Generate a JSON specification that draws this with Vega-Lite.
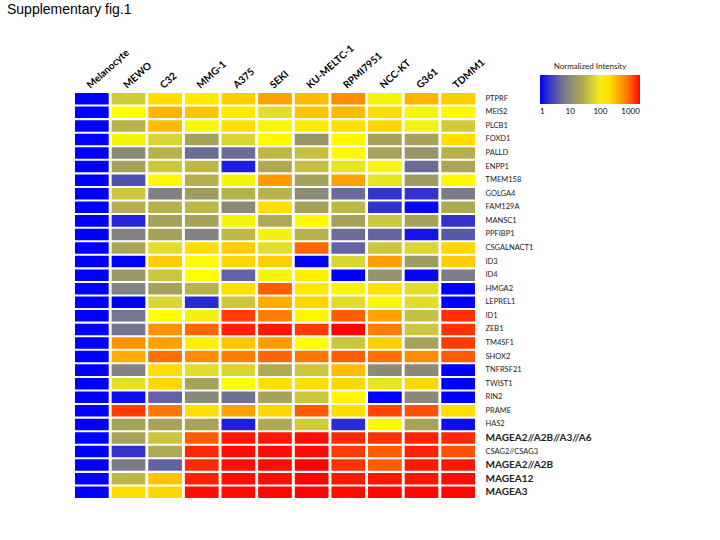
{
  "$schema": "https://vega.github.io/schema/vega-lite/v6.json",
  "width": 400,
  "height": 405,
  "autosize": {"type": "none"},
  "padding": {"left": 75, "top": 93, "right": 245, "bottom": 42},
  "background": "white",
  "title": {"text": "Supplementary fig.1", "anchor": "start", "frame": "group", "dx": -68, "dy": -22, "font": "Liberation Sans", "fontSize": 14, "fontWeight": "normal", "color": "black"},
  "config": {"view": {"stroke": null}},
  "data": {"values": [
    {"g":"PTPRF","c":"Melanocyte","v":1},{"g":"PTPRF","c":"MEWO","v":50},{"g":"PTPRF","c":"C32","v":200},{"g":"PTPRF","c":"MMG-1","v":170},{"g":"PTPRF","c":"A375","v":250},{"g":"PTPRF","c":"SEKI","v":450},{"g":"PTPRF","c":"KU-MELTC-1","v":320},{"g":"PTPRF","c":"RPMI7951","v":600},{"g":"PTPRF","c":"NCC-KT","v":110},{"g":"PTPRF","c":"G361","v":350},{"g":"PTPRF","c":"TDMM1","v":250},
    {"g":"MEIS2","c":"Melanocyte","v":1},{"g":"MEIS2","c":"MEWO","v":130},{"g":"MEIS2","c":"C32","v":350},{"g":"MEIS2","c":"MMG-1","v":280},{"g":"MEIS2","c":"A375","v":170},{"g":"MEIS2","c":"SEKI","v":70},{"g":"MEIS2","c":"KU-MELTC-1","v":280},{"g":"MEIS2","c":"RPMI7951","v":330},{"g":"MEIS2","c":"NCC-KT","v":200},{"g":"MEIS2","c":"G361","v":110},{"g":"MEIS2","c":"TDMM1","v":140},
    {"g":"PLCB1","c":"Melanocyte","v":1},{"g":"PLCB1","c":"MEWO","v":30},{"g":"PLCB1","c":"C32","v":320},{"g":"PLCB1","c":"MMG-1","v":110},{"g":"PLCB1","c":"A375","v":200},{"g":"PLCB1","c":"SEKI","v":110},{"g":"PLCB1","c":"KU-MELTC-1","v":170},{"g":"PLCB1","c":"RPMI7951","v":200},{"g":"PLCB1","c":"NCC-KT","v":220},{"g":"PLCB1","c":"G361","v":100},{"g":"PLCB1","c":"TDMM1","v":50},
    {"g":"FOXD1","c":"Melanocyte","v":1},{"g":"FOXD1","c":"MEWO","v":110},{"g":"FOXD1","c":"C32","v":60},{"g":"FOXD1","c":"MMG-1","v":20},{"g":"FOXD1","c":"A375","v":60},{"g":"FOXD1","c":"SEKI","v":140},{"g":"FOXD1","c":"KU-MELTC-1","v":14},{"g":"FOXD1","c":"RPMI7951","v":140},{"g":"FOXD1","c":"NCC-KT","v":20},{"g":"FOXD1","c":"G361","v":20},{"g":"FOXD1","c":"TDMM1","v":200},
    {"g":"PALLD","c":"Melanocyte","v":1},{"g":"PALLD","c":"MEWO","v":10},{"g":"PALLD","c":"C32","v":30},{"g":"PALLD","c":"MMG-1","v":5},{"g":"PALLD","c":"A375","v":5},{"g":"PALLD","c":"SEKI","v":35},{"g":"PALLD","c":"KU-MELTC-1","v":40},{"g":"PALLD","c":"RPMI7951","v":140},{"g":"PALLD","c":"NCC-KT","v":20},{"g":"PALLD","c":"G361","v":14},{"g":"PALLD","c":"TDMM1","v":28},
    {"g":"ENPP1","c":"Melanocyte","v":1},{"g":"ENPP1","c":"MEWO","v":20},{"g":"ENPP1","c":"C32","v":45},{"g":"ENPP1","c":"MMG-1","v":35},{"g":"ENPP1","c":"A375","v":1.5},{"g":"ENPP1","c":"SEKI","v":24},{"g":"ENPP1","c":"KU-MELTC-1","v":40},{"g":"ENPP1","c":"RPMI7951","v":80},{"g":"ENPP1","c":"NCC-KT","v":110},{"g":"ENPP1","c":"G361","v":5},{"g":"ENPP1","c":"TDMM1","v":22},
    {"g":"TMEM158","c":"Melanocyte","v":1},{"g":"TMEM158","c":"MEWO","v":3},{"g":"TMEM158","c":"C32","v":140},{"g":"TMEM158","c":"MMG-1","v":28},{"g":"TMEM158","c":"A375","v":110},{"g":"TMEM158","c":"SEKI","v":500},{"g":"TMEM158","c":"KU-MELTC-1","v":20},{"g":"TMEM158","c":"RPMI7951","v":450},{"g":"TMEM158","c":"NCC-KT","v":80},{"g":"TMEM158","c":"G361","v":17},{"g":"TMEM158","c":"TDMM1","v":140},
    {"g":"GOLGA4","c":"Melanocyte","v":1},{"g":"GOLGA4","c":"MEWO","v":45},{"g":"GOLGA4","c":"C32","v":8},{"g":"GOLGA4","c":"MMG-1","v":17},{"g":"GOLGA4","c":"A375","v":30},{"g":"GOLGA4","c":"SEKI","v":30},{"g":"GOLGA4","c":"KU-MELTC-1","v":10},{"g":"GOLGA4","c":"RPMI7951","v":5},{"g":"GOLGA4","c":"NCC-KT","v":2},{"g":"GOLGA4","c":"G361","v":2},{"g":"GOLGA4","c":"TDMM1","v":7},
    {"g":"FAM129A","c":"Melanocyte","v":1},{"g":"FAM129A","c":"MEWO","v":28},{"g":"FAM129A","c":"C32","v":30},{"g":"FAM129A","c":"MMG-1","v":35},{"g":"FAM129A","c":"A375","v":10},{"g":"FAM129A","c":"SEKI","v":200},{"g":"FAM129A","c":"KU-MELTC-1","v":20},{"g":"FAM129A","c":"RPMI7951","v":35},{"g":"FAM129A","c":"NCC-KT","v":2},{"g":"FAM129A","c":"G361","v":1.1},{"g":"FAM129A","c":"TDMM1","v":24},
    {"g":"MANSC1","c":"Melanocyte","v":1},{"g":"MANSC1","c":"MEWO","v":1.6},{"g":"MANSC1","c":"C32","v":20},{"g":"MANSC1","c":"MMG-1","v":20},{"g":"MANSC1","c":"A375","v":110},{"g":"MANSC1","c":"SEKI","v":24},{"g":"MANSC1","c":"KU-MELTC-1","v":140},{"g":"MANSC1","c":"RPMI7951","v":20},{"g":"MANSC1","c":"NCC-KT","v":45},{"g":"MANSC1","c":"G361","v":20},{"g":"MANSC1","c":"TDMM1","v":2},
    {"g":"PPFIBP1","c":"Melanocyte","v":1},{"g":"PPFIBP1","c":"MEWO","v":8},{"g":"PPFIBP1","c":"C32","v":20},{"g":"PPFIBP1","c":"MMG-1","v":8},{"g":"PPFIBP1","c":"A375","v":35},{"g":"PPFIBP1","c":"SEKI","v":100},{"g":"PPFIBP1","c":"KU-MELTC-1","v":30},{"g":"PPFIBP1","c":"RPMI7951","v":5},{"g":"PPFIBP1","c":"NCC-KT","v":4},{"g":"PPFIBP1","c":"G361","v":1.3},{"g":"PPFIBP1","c":"TDMM1","v":3.5},
    {"g":"CSGALNACT1","c":"Melanocyte","v":1},{"g":"CSGALNACT1","c":"MEWO","v":22},{"g":"CSGALNACT1","c":"C32","v":70},{"g":"CSGALNACT1","c":"MMG-1","v":200},{"g":"CSGALNACT1","c":"A375","v":250},{"g":"CSGALNACT1","c":"SEKI","v":70},{"g":"CSGALNACT1","c":"KU-MELTC-1","v":900},{"g":"CSGALNACT1","c":"RPMI7951","v":4},{"g":"CSGALNACT1","c":"NCC-KT","v":45},{"g":"CSGALNACT1","c":"G361","v":60},{"g":"CSGALNACT1","c":"TDMM1","v":220},
    {"g":"ID3","c":"Melanocyte","v":1},{"g":"ID3","c":"MEWO","v":1},{"g":"ID3","c":"C32","v":250},{"g":"ID3","c":"MMG-1","v":120},{"g":"ID3","c":"A375","v":220},{"g":"ID3","c":"SEKI","v":250},{"g":"ID3","c":"KU-MELTC-1","v":1},{"g":"ID3","c":"RPMI7951","v":60},{"g":"ID3","c":"NCC-KT","v":480},{"g":"ID3","c":"G361","v":17},{"g":"ID3","c":"TDMM1","v":250},
    {"g":"ID4","c":"Melanocyte","v":1},{"g":"ID4","c":"MEWO","v":15},{"g":"ID4","c":"C32","v":45},{"g":"ID4","c":"MMG-1","v":130},{"g":"ID4","c":"A375","v":4},{"g":"ID4","c":"SEKI","v":110},{"g":"ID4","c":"KU-MELTC-1","v":160},{"g":"ID4","c":"RPMI7951","v":1},{"g":"ID4","c":"NCC-KT","v":13},{"g":"ID4","c":"G361","v":1.1},{"g":"ID4","c":"TDMM1","v":7},
    {"g":"HMGA2","c":"Melanocyte","v":1},{"g":"HMGA2","c":"MEWO","v":8},{"g":"HMGA2","c":"C32","v":20},{"g":"HMGA2","c":"MMG-1","v":30},{"g":"HMGA2","c":"A375","v":200},{"g":"HMGA2","c":"SEKI","v":1000},{"g":"HMGA2","c":"KU-MELTC-1","v":170},{"g":"HMGA2","c":"RPMI7951","v":110},{"g":"HMGA2","c":"NCC-KT","v":200},{"g":"HMGA2","c":"G361","v":70},{"g":"HMGA2","c":"TDMM1","v":1},
    {"g":"LEPREL1","c":"Melanocyte","v":1},{"g":"LEPREL1","c":"MEWO","v":1},{"g":"LEPREL1","c":"C32","v":60},{"g":"LEPREL1","c":"MMG-1","v":1.8},{"g":"LEPREL1","c":"A375","v":45},{"g":"LEPREL1","c":"SEKI","v":400},{"g":"LEPREL1","c":"KU-MELTC-1","v":220},{"g":"LEPREL1","c":"RPMI7951","v":70},{"g":"LEPREL1","c":"NCC-KT","v":110},{"g":"LEPREL1","c":"G361","v":70},{"g":"LEPREL1","c":"TDMM1","v":1},
    {"g":"ID1","c":"Melanocyte","v":1},{"g":"ID1","c":"MEWO","v":6},{"g":"ID1","c":"C32","v":130},{"g":"ID1","c":"MMG-1","v":100},{"g":"ID1","c":"A375","v":1300},{"g":"ID1","c":"SEKI","v":700},{"g":"ID1","c":"KU-MELTC-1","v":140},{"g":"ID1","c":"RPMI7951","v":1000},{"g":"ID1","c":"NCC-KT","v":450},{"g":"ID1","c":"G361","v":40},{"g":"ID1","c":"TDMM1","v":1400},
    {"g":"ZEB1","c":"Melanocyte","v":1},{"g":"ZEB1","c":"MEWO","v":6},{"g":"ZEB1","c":"C32","v":550},{"g":"ZEB1","c":"MMG-1","v":900},{"g":"ZEB1","c":"A375","v":1600},{"g":"ZEB1","c":"SEKI","v":1700},{"g":"ZEB1","c":"KU-MELTC-1","v":1300},{"g":"ZEB1","c":"RPMI7951","v":2000},{"g":"ZEB1","c":"NCC-KT","v":700},{"g":"ZEB1","c":"G361","v":45},{"g":"ZEB1","c":"TDMM1","v":1400},
    {"g":"TM4SF1","c":"Melanocyte","v":1},{"g":"TM4SF1","c":"MEWO","v":550},{"g":"TM4SF1","c":"C32","v":450},{"g":"TM4SF1","c":"MMG-1","v":160},{"g":"TM4SF1","c":"A375","v":280},{"g":"TM4SF1","c":"SEKI","v":500},{"g":"TM4SF1","c":"KU-MELTC-1","v":130},{"g":"TM4SF1","c":"RPMI7951","v":45},{"g":"TM4SF1","c":"NCC-KT","v":250},{"g":"TM4SF1","c":"G361","v":20},{"g":"TM4SF1","c":"TDMM1","v":1300},
    {"g":"SHOX2","c":"Melanocyte","v":1},{"g":"SHOX2","c":"MEWO","v":400},{"g":"SHOX2","c":"C32","v":800},{"g":"SHOX2","c":"MMG-1","v":600},{"g":"SHOX2","c":"A375","v":700},{"g":"SHOX2","c":"SEKI","v":900},{"g":"SHOX2","c":"KU-MELTC-1","v":750},{"g":"SHOX2","c":"RPMI7951","v":1000},{"g":"SHOX2","c":"NCC-KT","v":800},{"g":"SHOX2","c":"G361","v":600},{"g":"SHOX2","c":"TDMM1","v":1000},
    {"g":"TNFRSF21","c":"Melanocyte","v":1},{"g":"TNFRSF21","c":"MEWO","v":8},{"g":"TNFRSF21","c":"C32","v":200},{"g":"TNFRSF21","c":"MMG-1","v":70},{"g":"TNFRSF21","c":"A375","v":60},{"g":"TNFRSF21","c":"SEKI","v":24},{"g":"TNFRSF21","c":"KU-MELTC-1","v":45},{"g":"TNFRSF21","c":"RPMI7951","v":320},{"g":"TNFRSF21","c":"NCC-KT","v":10},{"g":"TNFRSF21","c":"G361","v":10},{"g":"TNFRSF21","c":"TDMM1","v":1},
    {"g":"TWIST1","c":"Melanocyte","v":1},{"g":"TWIST1","c":"MEWO","v":75},{"g":"TWIST1","c":"C32","v":220},{"g":"TWIST1","c":"MMG-1","v":20},{"g":"TWIST1","c":"A375","v":130},{"g":"TWIST1","c":"SEKI","v":200},{"g":"TWIST1","c":"KU-MELTC-1","v":200},{"g":"TWIST1","c":"RPMI7951","v":220},{"g":"TWIST1","c":"NCC-KT","v":80},{"g":"TWIST1","c":"G361","v":220},{"g":"TWIST1","c":"TDMM1","v":1},
    {"g":"RIN2","c":"Melanocyte","v":1},{"g":"RIN2","c":"MEWO","v":1.2},{"g":"RIN2","c":"C32","v":4},{"g":"RIN2","c":"MMG-1","v":10},{"g":"RIN2","c":"A375","v":5.5},{"g":"RIN2","c":"SEKI","v":20},{"g":"RIN2","c":"KU-MELTC-1","v":45},{"g":"RIN2","c":"RPMI7951","v":140},{"g":"RIN2","c":"NCC-KT","v":1},{"g":"RIN2","c":"G361","v":10},{"g":"RIN2","c":"TDMM1","v":1},
    {"g":"PRAME","c":"Melanocyte","v":1},{"g":"PRAME","c":"MEWO","v":1300},{"g":"PRAME","c":"C32","v":750},{"g":"PRAME","c":"MMG-1","v":200},{"g":"PRAME","c":"A375","v":450},{"g":"PRAME","c":"SEKI","v":220},{"g":"PRAME","c":"KU-MELTC-1","v":1000},{"g":"PRAME","c":"RPMI7951","v":200},{"g":"PRAME","c":"NCC-KT","v":1200},{"g":"PRAME","c":"G361","v":1100},{"g":"PRAME","c":"TDMM1","v":200},
    {"g":"HAS2","c":"Melanocyte","v":1},{"g":"HAS2","c":"MEWO","v":20},{"g":"HAS2","c":"C32","v":20},{"g":"HAS2","c":"MMG-1","v":20},{"g":"HAS2","c":"A375","v":1.5},{"g":"HAS2","c":"SEKI","v":24},{"g":"HAS2","c":"KU-MELTC-1","v":50},{"g":"HAS2","c":"RPMI7951","v":1.8},{"g":"HAS2","c":"NCC-KT","v":140},{"g":"HAS2","c":"G361","v":20},{"g":"HAS2","c":"TDMM1","v":1.2},
    {"g":"MAGEA2//A2B//A3//A6","c":"Melanocyte","v":1},{"g":"MAGEA2//A2B//A3//A6","c":"MEWO","v":20},{"g":"MAGEA2//A2B//A3//A6","c":"C32","v":45},{"g":"MAGEA2//A2B//A3//A6","c":"MMG-1","v":1000},{"g":"MAGEA2//A2B//A3//A6","c":"A375","v":1700},{"g":"MAGEA2//A2B//A3//A6","c":"SEKI","v":1700},{"g":"MAGEA2//A2B//A3//A6","c":"KU-MELTC-1","v":1850},{"g":"MAGEA2//A2B//A3//A6","c":"RPMI7951","v":1500},{"g":"MAGEA2//A2B//A3//A6","c":"NCC-KT","v":1400},{"g":"MAGEA2//A2B//A3//A6","c":"G361","v":1600},{"g":"MAGEA2//A2B//A3//A6","c":"TDMM1","v":1500},
    {"g":"CSAG2//CSAG3","c":"Melanocyte","v":1},{"g":"CSAG2//CSAG3","c":"MEWO","v":2},{"g":"CSAG2//CSAG3","c":"C32","v":24},{"g":"CSAG2//CSAG3","c":"MMG-1","v":1500},{"g":"CSAG2//CSAG3","c":"A375","v":1850},{"g":"CSAG2//CSAG3","c":"SEKI","v":1850},{"g":"CSAG2//CSAG3","c":"KU-MELTC-1","v":1900},{"g":"CSAG2//CSAG3","c":"RPMI7951","v":1300},{"g":"CSAG2//CSAG3","c":"NCC-KT","v":1000},{"g":"CSAG2//CSAG3","c":"G361","v":1600},{"g":"CSAG2//CSAG3","c":"TDMM1","v":1100},
    {"g":"MAGEA2//A2B","c":"Melanocyte","v":1},{"g":"MAGEA2//A2B","c":"MEWO","v":7},{"g":"MAGEA2//A2B","c":"C32","v":4},{"g":"MAGEA2//A2B","c":"MMG-1","v":1500},{"g":"MAGEA2//A2B","c":"A375","v":1850},{"g":"MAGEA2//A2B","c":"SEKI","v":1850},{"g":"MAGEA2//A2B","c":"KU-MELTC-1","v":2000},{"g":"MAGEA2//A2B","c":"RPMI7951","v":1400},{"g":"MAGEA2//A2B","c":"NCC-KT","v":1000},{"g":"MAGEA2//A2B","c":"G361","v":1700},{"g":"MAGEA2//A2B","c":"TDMM1","v":1700},
    {"g":"MAGEA12","c":"Melanocyte","v":1},{"g":"MAGEA12","c":"MEWO","v":35},{"g":"MAGEA12","c":"C32","v":280},{"g":"MAGEA12","c":"MMG-1","v":1600},{"g":"MAGEA12","c":"A375","v":1850},{"g":"MAGEA12","c":"SEKI","v":1850},{"g":"MAGEA12","c":"KU-MELTC-1","v":2000},{"g":"MAGEA12","c":"RPMI7951","v":1700},{"g":"MAGEA12","c":"NCC-KT","v":1750},{"g":"MAGEA12","c":"G361","v":1750},{"g":"MAGEA12","c":"TDMM1","v":1850},
    {"g":"MAGEA3","c":"Melanocyte","v":1},{"g":"MAGEA3","c":"MEWO","v":200},{"g":"MAGEA3","c":"C32","v":220},{"g":"MAGEA3","c":"MMG-1","v":1850},{"g":"MAGEA3","c":"A375","v":1900},{"g":"MAGEA3","c":"SEKI","v":1950},{"g":"MAGEA3","c":"KU-MELTC-1","v":2000},{"g":"MAGEA3","c":"RPMI7951","v":1900},{"g":"MAGEA3","c":"NCC-KT","v":1950},{"g":"MAGEA3","c":"G361","v":1950},{"g":"MAGEA3","c":"TDMM1","v":1950}
  ]},
  "mark": {"type": "rect"},
  "encoding": {
    "x": {
      "field": "c", "type": "nominal",
      "sort": ["Melanocyte","MEWO","C32","MMG-1","A375","SEKI","KU-MELTC-1","RPMI7951","NCC-KT","G361","TDMM1"],
      "scale": {"paddingInner": 0.08, "paddingOuter": 0},
      "axis": {"orient": "top", "title": null, "labelAngle": -42, "labelAlign": "left", "labelBaseline": "bottom", "labelPadding": 3, "labelOffset": 0, "domain": false, "ticks": false, "labelFont": "Lato", "labelFontSize": 10, "labelFontWeight": "bold", "labelColor": "black"}
    },
    "y": {
      "field": "g", "type": "nominal",
      "sort": ["PTPRF","MEIS2","PLCB1","FOXD1","PALLD","ENPP1","TMEM158","GOLGA4","FAM129A","MANSC1","PPFIBP1","CSGALNACT1","ID3","ID4","HMGA2","LEPREL1","ID1","ZEB1","TM4SF1","SHOX2","TNFRSF21","TWIST1","RIN2","PRAME","HAS2","MAGEA2//A2B//A3//A6","CSAG2//CSAG3","MAGEA2//A2B","MAGEA12","MAGEA3"],
      "scale": {"paddingInner": 0.15, "paddingOuter": 0},
      "axis": {
        "orient": "right", "title": null, "domain": false, "ticks": false, "labelPadding": 10,
        "labelFont": "Lato", "labelColor": "#222222",
        "labelFontSize": {"condition": {"test": "indexof(datum.value, 'MAGEA') === 0", "value": 10}, "value": 7.5},
        "labelFontWeight": {"condition": {"test": "indexof(datum.value, 'MAGEA') === 0", "value": "bold"}, "value": "normal"}
      }
    },
    "color": {
      "field": "v", "type": "quantitative",
      "scale": {
        "type": "log",
        "domain": [1, 2, 4, 8, 16, 32, 64, 128, 256, 512, 1024, 2048],
        "range": ["#0000ff", "#3333cc", "#6262a4", "#828282", "#9e9a62", "#bab44a", "#dcd830", "#ffff00", "#ffcc00", "#ff9900", "#ff5a00", "#ff0000"],
        "interpolate": "rgb"
      },
      "legend": {
        "orient": "none", "legendX": 465, "legendY": -30, "direction": "horizontal",
        "gradientLength": 100, "gradientThickness": 29, "gradientStrokeWidth": 0,
        "title": "Normalized Intensity", "titleFont": "Lato", "titleFontSize": 8, "titleFontWeight": "normal", "titleColor": "#222222", "titleAnchor": "middle", "titlePadding": 4,
        "values": [1, 10, 100, 1000], "format": "d",
        "labelFont": "Lato", "labelFontSize": 8, "labelColor": "black", "labelOffset": 4
      }
    }
  }
}
